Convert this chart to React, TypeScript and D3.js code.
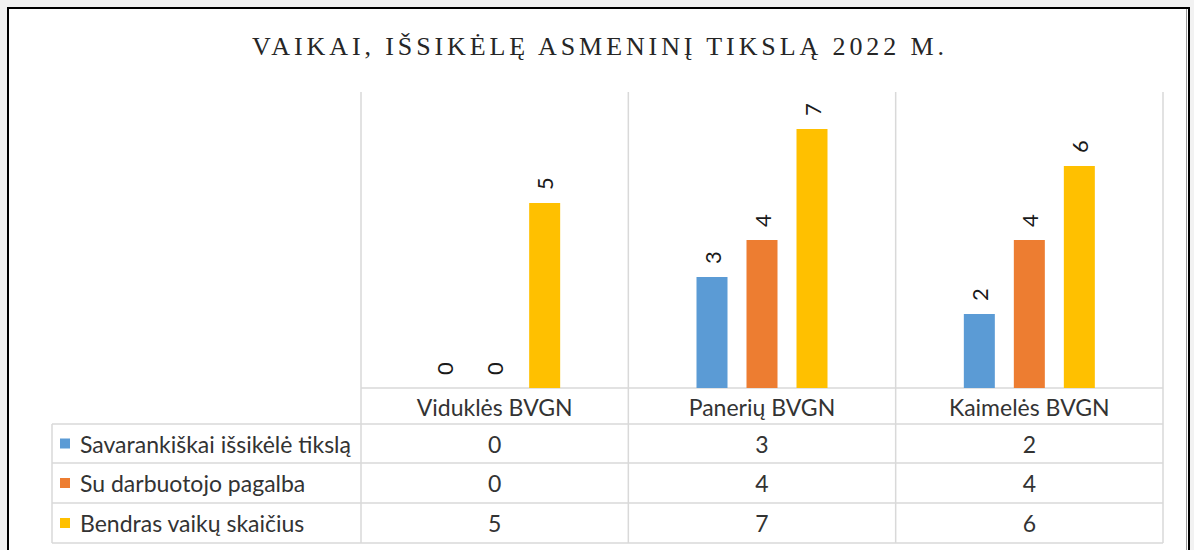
import React from "react";
import * as d3 from "d3";

const title = "VAIKAI, IŠSIKĖLĘ ASMENINĮ TIKSLĄ 2022 M.";
const categories = ["Viduklės BVGN", "Panerių BVGN", "Kaimelės BVGN"];
const seriesNames = ["Savarankiškai išsikėlė tikslą", "Su darbuotojo pagalba", "Bendras vaikų skaičius"];
const savarankiskai = [0, 3, 2];
const suPagalba = [0, 4, 4];
const bendras = [5, 7, 6];
const seriesColors = ["#5B9BD5", "#ED7D31", "#FFC000"];
const yMax = 8;

const seriesValues = [savarankiskai, suPagalba, bendras];

const W = 1194;
const H = 550;
const plotLeft = 361;
const plotRight = 1163;
const plotTop = 92;
const plotBottom = 388;
const tableLeft = 52;
const rowBounds = [388, 424, 463, 503, 543];
const gridColor = "#D9D9D9";
const textColor = "#333333";
const uiFont = "Lato, 'Open Sans', sans-serif";
const tableFontSize = 23;

export default function App() {
  const x = d3.scaleBand<string>().domain(categories).range([plotLeft, plotRight]).padding(0);
  const y = d3.scaleLinear().domain([0, yMax]).range([plotBottom, plotTop]);
  const step = 50;
  const inner = d3
    .scaleBand<string>()
    .domain(seriesNames)
    .range([-step * (3 - 0.38) / 2, step * (3 - 0.38) / 2])
    .paddingInner(0.38)
    .paddingOuter(0);

  const colEdges = [plotLeft, ...categories.map((c) => (x(c) as number) + x.bandwidth())];

  return (
    <svg
      width={W}
      height={H}
      style={{ position: "absolute", left: 0, top: 0, display: "block" }}
      xmlns="http://www.w3.org/2000/svg"
    >
      <rect x={0} y={0} width={W} height={H} fill="#F2F2F2" />
      <rect x={8} y={8} width={1181} height={H + 20} fill="#FFFFFF" stroke="#000" strokeWidth={2} />
      <line x1={1186.5} y1={9} x2={1186.5} y2={H} stroke="#9a9a9a" strokeWidth={1} />

      <text
        x={252}
        y={55}
        textLength={692}
        lengthAdjust="spacing"
        fontFamily="'Liberation Serif', 'Times New Roman', serif"
        fontSize={26}
        fill="#262626"
      >
        {title}
      </text>

      {colEdges.map((cx, i) => (
        <line key={"v" + i} x1={cx} x2={cx} y1={plotTop} y2={rowBounds[rowBounds.length - 1]} stroke={gridColor} strokeWidth={1.5} />
      ))}
      <line x1={plotLeft} x2={plotRight} y1={plotBottom} y2={plotBottom} stroke={gridColor} strokeWidth={1.5} />
      {rowBounds.slice(1).map((ry, i) => (
        <line key={"h" + i} x1={tableLeft} x2={plotRight} y1={ry} y2={ry} stroke={gridColor} strokeWidth={1.5} />
      ))}
      <line x1={tableLeft} x2={tableLeft} y1={rowBounds[1]} y2={rowBounds[4]} stroke={gridColor} strokeWidth={1.5} />

      {categories.map((c, ci) => {
        const cx = (x(c) as number) + x.bandwidth() / 2;
        return seriesNames.map((s, si) => {
          const v = seriesValues[si][ci];
          const bx = cx + (inner(s) as number);
          const bw = inner.bandwidth();
          const top = y(v);
          return (
            <g key={c + s}>
              {v > 0 && <rect x={bx} y={top} width={bw} height={plotBottom - top} fill={seriesColors[si]} />}
              <text
                transform={`translate(${bx + bw / 2},${top - 13}) rotate(-90)`}
                textAnchor="start"
                dominantBaseline="central"
                fontFamily={uiFont}
                fontSize={22}
                fill="#1a1a1a"
              >
                {v}
              </text>
            </g>
          );
        });
      })}

      {categories.map((c) => (
        <text
          key={"hdr" + c}
          x={(x(c) as number) + x.bandwidth() / 2}
          y={(rowBounds[0] + rowBounds[1]) / 2 + 1}
          textAnchor="middle"
          dominantBaseline="central"
          fontFamily={uiFont}
          fontSize={tableFontSize}
          fill={textColor}
        >
          {c}
        </text>
      ))}

      {seriesNames.map((s, si) => {
        const cy = (rowBounds[si + 1] + rowBounds[si + 2]) / 2;
        return (
          <g key={"row" + s}>
            <rect x={60} y={cy - 5} width={10} height={10} fill={seriesColors[si]} />
            <text x={80} y={cy} dominantBaseline="central" fontFamily={uiFont} fontSize={tableFontSize} fill={textColor}>
              {s}
            </text>
            {categories.map((c, ci) => (
              <text
                key={"cell" + c}
                x={(x(c) as number) + x.bandwidth() / 2}
                y={cy}
                textAnchor="middle"
                dominantBaseline="central"
                fontFamily={uiFont}
                fontSize={tableFontSize}
                fill={textColor}
              >
                {seriesValues[si][ci]}
              </text>
            ))}
          </g>
        );
      })}
    </svg>
  );
}
